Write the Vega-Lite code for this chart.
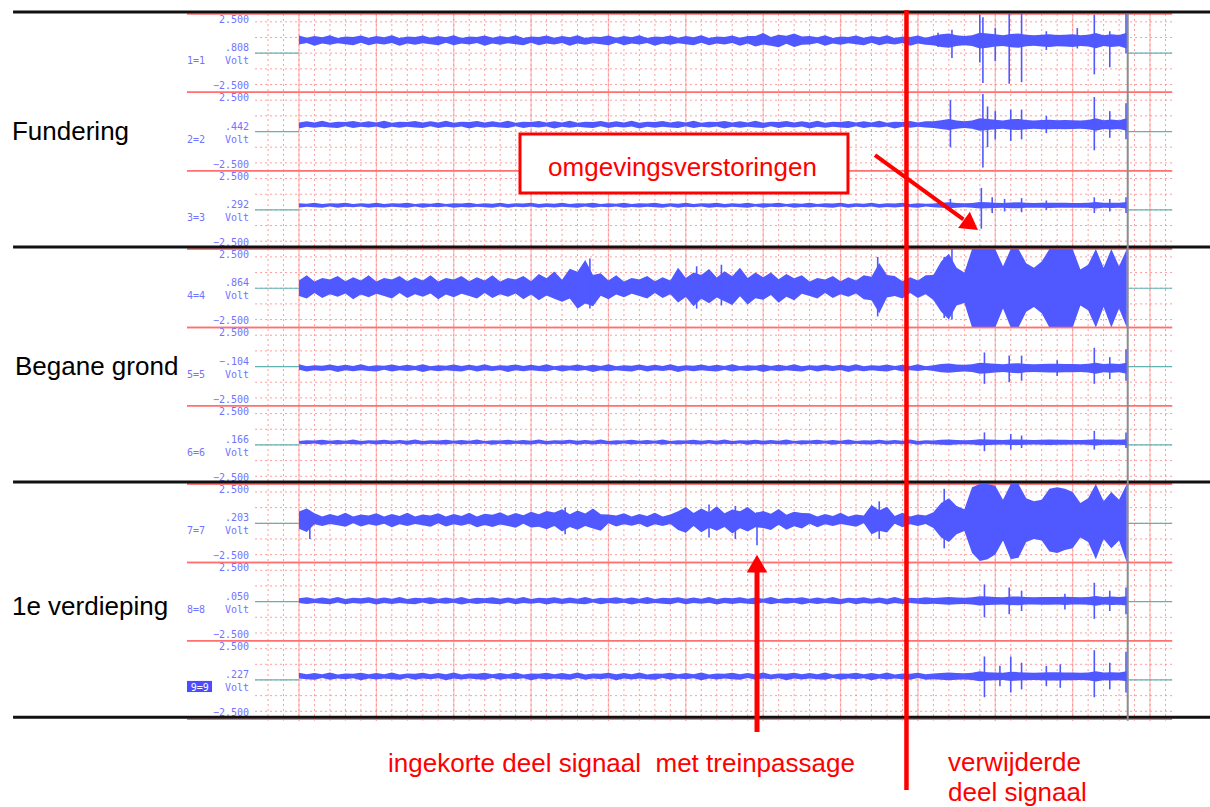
{
"$schema": "https://vega.github.io/schema/vega-lite/v6.json",
"width": 1210, "height": 807, "padding": 0, "autosize": {"type": "none"},
"background": "white",
"config": {"view": {"stroke": null}, "axis": {"disable": true}, "legend": {"disable": true}},
"datasets": {
"s": [
{"t":0,"h1":1.13,"l1":0.55,"h2":0.57,"l2":0.2,"h3":0.43,"l3":0.15,"h4":0.5,"l4":-0.5,"h5":0.15,"l5":-0.21,"h6":0.25,"l6":0.08,"h7":0.75,"l7":-0.35,"h8":0.21,"l8":-0.09,"h9":0.46,"l9":0.1},
{"t":0.5,"h1":0.99,"l1":0.65,"h2":0.65,"l2":0.3,"h3":0.39,"l3":0.2,"h4":0.83,"l4":-0.65,"h5":0.02,"l5":-0.32,"h6":0.3,"l6":0.04,"h7":0.95,"l7":-0.55,"h8":0.28,"l8":-0.15,"h9":0.36,"l9":0.05},
{"t":1,"h1":1.1,"l1":0.48,"h2":0.58,"l2":0.24,"h3":0.46,"l3":0.17,"h4":0.43,"l4":-0.3,"h5":0.09,"l5":-0.24,"h6":0.28,"l6":0.09,"h7":0.64,"l7":-0.07,"h8":0.18,"l8":-0.08,"h9":0.44,"l9":0.01},
{"t":1.5,"h1":1.01,"l1":0.61,"h2":0.69,"l2":0.31,"h3":0.37,"l3":0.14,"h4":0.65,"l4":-0.63,"h5":0.06,"l5":-0.29,"h6":0.33,"l6":0.01,"h7":0.44,"l7":-0.18,"h8":0.26,"l8":-0.13,"h9":0.37,"l9":0.12},
{"t":2,"h1":1.15,"l1":0.53,"h2":0.56,"l2":0.26,"h3":0.42,"l3":0.21,"h4":0.55,"l4":-0.38,"h5":0.13,"l5":-0.22,"h6":0.26,"l6":0.07,"h7":0.59,"l7":-0.04,"h8":0.19,"l8":-0.17,"h9":0.48,"l9":0.01},
{"t":2.5,"h1":0.97,"l1":0.63,"h2":0.63,"l2":0.22,"h3":0.4,"l3":0.14,"h4":0.78,"l4":-0.55,"h5":0.03,"l5":-0.34,"h6":0.31,"l6":0.03,"h7":0.47,"l7":-0.13,"h8":0.3,"l8":-0.06,"h9":0.35,"l9":0.09},
{"t":3,"h1":1.07,"l1":0.57,"h2":0.6,"l2":0.33,"h3":0.45,"l3":0.2,"h4":0.45,"l4":-0.33,"h5":0.11,"l5":-0.24,"h6":0.27,"l6":0.08,"h7":0.67,"l7":-0.22,"h8":0.17,"l8":-0.17,"h9":0.42,"l9":0.04},
{"t":3.5,"h1":1.03,"l1":0.5,"h2":0.67,"l2":0.22,"h3":0.38,"l3":0.16,"h4":0.7,"l4":-0.7,"h5":0.04,"l5":-0.3,"h6":0.34,"l6":0.05,"h7":0.43,"l7":0.0,"h8":0.24,"l8":-0.09,"h9":0.39,"l9":0.11},
{"t":4,"h1":1.13,"l1":0.66,"h2":0.57,"l2":0.3,"h3":0.43,"l3":0.21,"h4":0.5,"l4":-0.4,"h5":0.15,"l5":-0.23,"h6":0.25,"l6":0.02,"h7":0.56,"l7":-0.21,"h8":0.21,"l8":-0.14,"h9":0.46,"l9":-0.01},
{"t":4.5,"h1":0.99,"l1":0.51,"h2":0.65,"l2":0.25,"h3":0.39,"l3":0.13,"h4":0.83,"l4":-0.58,"h5":0.02,"l5":-0.28,"h6":0.3,"l6":0.09,"h7":0.5,"l7":-0.06,"h8":0.28,"l8":-0.07,"h9":0.36,"l9":0.09},
{"t":5,"h1":1.1,"l1":0.62,"h2":0.58,"l2":0.32,"h3":0.46,"l3":0.19,"h4":0.43,"l4":-0.35,"h5":0.09,"l5":-0.32,"h6":0.28,"l6":0.02,"h7":0.64,"l7":-0.16,"h8":0.18,"l8":-0.19,"h9":0.44,"l9":0.03},
{"t":5.5,"h1":1.01,"l1":0.55,"h2":0.69,"l2":0.2,"h3":0.37,"l3":0.15,"h4":0.65,"l4":-0.5,"h5":0.06,"l5":-0.21,"h6":0.33,"l6":0.08,"h7":0.44,"l7":-0.03,"h8":0.26,"l8":-0.09,"h9":0.37,"l9":0.1},
{"t":6,"h1":1.15,"l1":0.65,"h2":0.56,"l2":0.3,"h3":0.42,"l3":0.2,"h4":0.55,"l4":-0.65,"h5":0.13,"l5":-0.32,"h6":0.26,"l6":0.04,"h7":0.59,"l7":-0.25,"h8":0.19,"l8":-0.15,"h9":0.48,"l9":0.05},
{"t":6.5,"h1":0.97,"l1":0.48,"h2":0.63,"l2":0.24,"h3":0.4,"l3":0.17,"h4":0.78,"l4":-0.3,"h5":0.03,"l5":-0.24,"h6":0.31,"l6":0.09,"h7":0.47,"l7":-0.07,"h8":0.3,"l8":-0.08,"h9":0.35,"l9":0.01},
{"t":7,"h1":1.07,"l1":0.61,"h2":0.6,"l2":0.31,"h3":0.45,"l3":0.14,"h4":0.45,"l4":-0.63,"h5":0.11,"l5":-0.29,"h6":0.27,"l6":0.01,"h7":0.67,"l7":-0.18,"h8":0.17,"l8":-0.13,"h9":0.42,"l9":0.12},
{"t":7.5,"h1":1.03,"l1":0.53,"h2":0.67,"l2":0.26,"h3":0.38,"l3":0.21,"h4":0.7,"l4":-0.38,"h5":0.04,"l5":-0.22,"h6":0.34,"l6":0.07,"h7":0.43,"l7":-0.04,"h8":0.24,"l8":-0.17,"h9":0.39,"l9":0.01},
{"t":8,"h1":1.13,"l1":0.63,"h2":0.57,"l2":0.22,"h3":0.43,"l3":0.14,"h4":0.5,"l4":-0.55,"h5":0.15,"l5":-0.34,"h6":0.25,"l6":0.03,"h7":0.56,"l7":-0.13,"h8":0.21,"l8":-0.06,"h9":0.46,"l9":0.09},
{"t":8.5,"h1":0.99,"l1":0.57,"h2":0.65,"l2":0.33,"h3":0.39,"l3":0.2,"h4":0.83,"l4":-0.33,"h5":0.02,"l5":-0.24,"h6":0.3,"l6":0.08,"h7":0.5,"l7":-0.22,"h8":0.28,"l8":-0.17,"h9":0.36,"l9":0.04},
{"t":9,"h1":1.1,"l1":0.5,"h2":0.58,"l2":0.22,"h3":0.46,"l3":0.16,"h4":0.43,"l4":-0.7,"h5":0.09,"l5":-0.3,"h6":0.28,"l6":0.05,"h7":0.64,"l7":0.0,"h8":0.18,"l8":-0.09,"h9":0.44,"l9":0.11},
{"t":9.5,"h1":1.01,"l1":0.66,"h2":0.69,"l2":0.3,"h3":0.37,"l3":0.21,"h4":0.65,"l4":-0.4,"h5":0.06,"l5":-0.23,"h6":0.33,"l6":0.02,"h7":0.44,"l7":-0.21,"h8":0.26,"l8":-0.14,"h9":0.37,"l9":-0.01},
{"t":10,"h1":1.15,"l1":0.51,"h2":0.56,"l2":0.25,"h3":0.42,"l3":0.13,"h4":0.55,"l4":-0.58,"h5":0.13,"l5":-0.28,"h6":0.26,"l6":0.09,"h7":0.59,"l7":-0.06,"h8":0.19,"l8":-0.07,"h9":0.48,"l9":0.09},
{"t":10.5,"h1":0.97,"l1":0.62,"h2":0.63,"l2":0.32,"h3":0.4,"l3":0.19,"h4":0.78,"l4":-0.35,"h5":0.03,"l5":-0.32,"h6":0.31,"l6":0.02,"h7":0.47,"l7":-0.16,"h8":0.3,"l8":-0.19,"h9":0.35,"l9":0.03},
{"t":11,"h1":1.07,"l1":0.55,"h2":0.6,"l2":0.2,"h3":0.45,"l3":0.15,"h4":0.45,"l4":-0.5,"h5":0.11,"l5":-0.21,"h6":0.27,"l6":0.08,"h7":0.67,"l7":-0.03,"h8":0.17,"l8":-0.09,"h9":0.42,"l9":0.1},
{"t":11.5,"h1":1.03,"l1":0.65,"h2":0.67,"l2":0.3,"h3":0.38,"l3":0.2,"h4":0.7,"l4":-0.65,"h5":0.04,"l5":-0.32,"h6":0.34,"l6":0.04,"h7":0.43,"l7":-0.25,"h8":0.24,"l8":-0.15,"h9":0.39,"l9":0.05},
{"t":12,"h1":1.13,"l1":0.48,"h2":0.57,"l2":0.24,"h3":0.43,"l3":0.17,"h4":0.5,"l4":-0.3,"h5":0.15,"l5":-0.24,"h6":0.25,"l6":0.09,"h7":0.61,"l7":-0.11,"h8":0.21,"l8":-0.08,"h9":0.46,"l9":0.01},
{"t":12.5,"h1":0.99,"l1":0.61,"h2":0.65,"l2":0.31,"h3":0.39,"l3":0.14,"h4":0.83,"l4":-0.63,"h5":0.02,"l5":-0.29,"h6":0.3,"l6":0.01,"h7":0.55,"l7":-0.24,"h8":0.28,"l8":-0.13,"h9":0.36,"l9":0.12},
{"t":13,"h1":1.1,"l1":0.53,"h2":0.58,"l2":0.26,"h3":0.46,"l3":0.21,"h4":0.43,"l4":-0.38,"h5":0.09,"l5":-0.22,"h6":0.28,"l6":0.07,"h7":0.71,"l7":-0.08,"h8":0.18,"l8":-0.17,"h9":0.44,"l9":0.01},
{"t":13.5,"h1":1.01,"l1":0.63,"h2":0.69,"l2":0.22,"h3":0.37,"l3":0.14,"h4":0.65,"l4":-0.55,"h5":0.06,"l5":-0.34,"h6":0.33,"l6":0.03,"h7":0.48,"l7":-0.18,"h8":0.26,"l8":-0.06,"h9":0.37,"l9":0.09},
{"t":14,"h1":1.15,"l1":0.57,"h2":0.56,"l2":0.33,"h3":0.42,"l3":0.2,"h4":0.55,"l4":-0.33,"h5":0.13,"l5":-0.24,"h6":0.26,"l6":0.08,"h7":0.65,"l7":-0.28,"h8":0.19,"l8":-0.17,"h9":0.48,"l9":0.04},
{"t":14.5,"h1":0.97,"l1":0.5,"h2":0.63,"l2":0.22,"h3":0.4,"l3":0.16,"h4":0.78,"l4":-0.7,"h5":0.03,"l5":-0.3,"h6":0.31,"l6":0.05,"h7":0.51,"l7":-0.03,"h8":0.3,"l8":-0.09,"h9":0.35,"l9":0.11},
{"t":15,"h1":1.07,"l1":0.66,"h2":0.6,"l2":0.3,"h3":0.45,"l3":0.21,"h4":0.45,"l4":-0.4,"h5":0.11,"l5":-0.23,"h6":0.27,"l6":0.02,"h7":0.74,"l7":-0.27,"h8":0.17,"l8":-0.14,"h9":0.42,"l9":-0.01},
{"t":15.5,"h1":1.03,"l1":0.51,"h2":0.67,"l2":0.25,"h3":0.38,"l3":0.13,"h4":0.9,"l4":-0.77,"h5":0.04,"l5":-0.28,"h6":0.34,"l6":0.09,"h7":0.57,"l7":-0.22,"h8":0.24,"l8":-0.07,"h9":0.39,"l9":0.09},
{"t":16,"h1":1.13,"l1":0.62,"h2":0.57,"l2":0.32,"h3":0.43,"l3":0.19,"h4":0.64,"l4":-0.47,"h5":0.15,"l5":-0.32,"h6":0.25,"l6":0.02,"h7":0.78,"l7":-0.38,"h8":0.21,"l8":-0.19,"h9":0.46,"l9":0.03},
{"t":16.5,"h1":0.99,"l1":0.55,"h2":0.65,"l2":0.2,"h3":0.39,"l3":0.15,"h4":1.06,"l4":-0.67,"h5":0.02,"l5":-0.21,"h6":0.3,"l6":0.08,"h7":0.68,"l7":-0.17,"h8":0.28,"l8":-0.09,"h9":0.36,"l9":0.1},
{"t":17,"h1":1.1,"l1":0.65,"h2":0.58,"l2":0.3,"h3":0.46,"l3":0.2,"h4":0.54,"l4":-0.86,"h5":0.09,"l5":-0.32,"h6":0.28,"l6":0.04,"h7":0.9,"l7":-0.52,"h8":0.18,"l8":-0.15,"h9":0.44,"l9":0.05},
{"t":17.5,"h1":1.01,"l1":0.48,"h2":0.69,"l2":0.24,"h3":0.37,"l3":0.17,"h4":1.25,"l4":-0.65,"h5":0.06,"l5":-0.24,"h6":0.33,"l6":0.09,"h7":0.58,"l7":-0.23,"h8":0.26,"l8":-0.08,"h9":0.37,"l9":0.01},
{"t":18,"h1":1.15,"l1":0.61,"h2":0.56,"l2":0.31,"h3":0.42,"l3":0.14,"h4":1.05,"l4":-1.31,"h5":0.13,"l5":-0.29,"h6":0.26,"l6":0.01,"h7":0.82,"l7":-0.41,"h8":0.19,"l8":-0.13,"h9":0.48,"l9":0.12},
{"t":18.5,"h1":0.97,"l1":0.53,"h2":0.63,"l2":0.26,"h3":0.4,"l3":0.21,"h4":1.8,"l4":-0.98,"h5":0.03,"l5":-0.22,"h6":0.31,"l6":0.07,"h7":0.63,"l7":-0.18,"h8":0.3,"l8":-0.17,"h9":0.35,"l9":0.01},
{"t":19,"h1":1.07,"l1":0.63,"h2":0.6,"l2":0.22,"h3":0.45,"l3":0.14,"h4":0.85,"l4":-1.15,"h5":0.11,"l5":-0.34,"h6":0.27,"l6":0.03,"h7":0.95,"l7":-0.33,"h8":0.17,"l8":-0.06,"h9":0.42,"l9":0.09},
{"t":19.5,"h1":1.03,"l1":0.57,"h2":0.67,"l2":0.33,"h3":0.38,"l3":0.2,"h4":0.96,"l4":-0.48,"h5":0.04,"l5":-0.24,"h6":0.34,"l6":0.08,"h7":0.57,"l7":-0.47,"h8":0.24,"l8":-0.17,"h9":0.39,"l9":0.04},
{"t":20,"h1":1.13,"l1":0.5,"h2":0.57,"l2":0.22,"h3":0.43,"l3":0.16,"h4":0.5,"l4":-0.7,"h5":0.15,"l5":-0.3,"h6":0.25,"l6":0.05,"h7":0.56,"l7":0.0,"h8":0.21,"l8":-0.09,"h9":0.46,"l9":0.11},
{"t":20.5,"h1":0.99,"l1":0.66,"h2":0.65,"l2":0.3,"h3":0.39,"l3":0.21,"h4":0.83,"l4":-0.4,"h5":0.02,"l5":-0.23,"h6":0.3,"l6":0.02,"h7":0.5,"l7":-0.21,"h8":0.28,"l8":-0.14,"h9":0.36,"l9":-0.01},
{"t":21,"h1":1.1,"l1":0.51,"h2":0.58,"l2":0.25,"h3":0.46,"l3":0.13,"h4":0.43,"l4":-0.58,"h5":0.09,"l5":-0.28,"h6":0.28,"l6":0.09,"h7":0.64,"l7":-0.06,"h8":0.18,"l8":-0.07,"h9":0.44,"l9":0.09},
{"t":21.5,"h1":1.01,"l1":0.62,"h2":0.69,"l2":0.32,"h3":0.37,"l3":0.19,"h4":0.65,"l4":-0.35,"h5":0.06,"l5":-0.32,"h6":0.33,"l6":0.02,"h7":0.44,"l7":-0.16,"h8":0.26,"l8":-0.19,"h9":0.37,"l9":0.03},
{"t":22,"h1":1.15,"l1":0.55,"h2":0.56,"l2":0.2,"h3":0.42,"l3":0.15,"h4":0.55,"l4":-0.5,"h5":0.13,"l5":-0.21,"h6":0.26,"l6":0.08,"h7":0.59,"l7":-0.03,"h8":0.19,"l8":-0.09,"h9":0.48,"l9":0.1},
{"t":22.5,"h1":0.97,"l1":0.65,"h2":0.63,"l2":0.3,"h3":0.4,"l3":0.2,"h4":0.78,"l4":-0.65,"h5":0.03,"l5":-0.32,"h6":0.31,"l6":0.04,"h7":0.47,"l7":-0.25,"h8":0.3,"l8":-0.15,"h9":0.35,"l9":0.05},
{"t":23,"h1":1.07,"l1":0.48,"h2":0.6,"l2":0.24,"h3":0.45,"l3":0.17,"h4":0.45,"l4":-0.3,"h5":0.11,"l5":-0.24,"h6":0.27,"l6":0.09,"h7":0.67,"l7":-0.07,"h8":0.17,"l8":-0.08,"h9":0.42,"l9":0.01},
{"t":23.5,"h1":1.03,"l1":0.61,"h2":0.67,"l2":0.31,"h3":0.38,"l3":0.14,"h4":0.7,"l4":-0.63,"h5":0.04,"l5":-0.29,"h6":0.34,"l6":0.01,"h7":0.43,"l7":-0.18,"h8":0.24,"l8":-0.13,"h9":0.39,"l9":0.12},
{"t":24,"h1":1.13,"l1":0.53,"h2":0.57,"l2":0.26,"h3":0.43,"l3":0.21,"h4":0.5,"l4":-0.38,"h5":0.15,"l5":-0.22,"h6":0.25,"l6":0.07,"h7":0.56,"l7":-0.04,"h8":0.21,"l8":-0.17,"h9":0.46,"l9":0.01},
{"t":24.5,"h1":0.99,"l1":0.63,"h2":0.65,"l2":0.22,"h3":0.39,"l3":0.14,"h4":1.3,"l4":-0.91,"h5":0.02,"l5":-0.34,"h6":0.3,"l6":0.03,"h7":0.77,"l7":-0.43,"h8":0.28,"l8":-0.06,"h9":0.36,"l9":0.09},
{"t":25,"h1":1.1,"l1":0.57,"h2":0.58,"l2":0.33,"h3":0.46,"l3":0.2,"h4":0.66,"l4":-0.56,"h5":0.09,"l5":-0.24,"h6":0.28,"l6":0.08,"h7":1.04,"l7":-0.6,"h8":0.18,"l8":-0.17,"h9":0.44,"l9":0.04},
{"t":25.5,"h1":1.01,"l1":0.5,"h2":0.69,"l2":0.22,"h3":0.37,"l3":0.16,"h4":1.01,"l4":-1.15,"h5":0.06,"l5":-0.3,"h6":0.33,"l6":0.05,"h7":0.66,"l7":-0.18,"h8":0.26,"l8":-0.09,"h9":0.37,"l9":0.11},
{"t":26,"h1":1.15,"l1":0.66,"h2":0.56,"l2":0.3,"h3":0.42,"l3":0.21,"h4":0.85,"l4":-0.67,"h5":0.13,"l5":-0.23,"h6":0.26,"l6":0.02,"h7":0.94,"l7":-0.58,"h8":0.19,"l8":-0.14,"h9":0.48,"l9":-0.01},
{"t":26.5,"h1":0.97,"l1":0.51,"h2":0.63,"l2":0.25,"h3":0.4,"l3":0.13,"h4":1.22,"l4":-0.96,"h5":0.03,"l5":-0.28,"h6":0.31,"l6":0.09,"h7":0.71,"l7":-0.29,"h8":0.3,"l8":-0.07,"h9":0.35,"l9":0.09},
{"t":27,"h1":1.07,"l1":0.62,"h2":0.6,"l2":0.32,"h3":0.45,"l3":0.19,"h4":0.69,"l4":-0.59,"h5":0.11,"l5":-0.32,"h6":0.27,"l6":0.02,"h7":1.09,"l7":-0.48,"h8":0.17,"l8":-0.19,"h9":0.42,"l9":0.03},
{"t":27.5,"h1":1.03,"l1":0.55,"h2":0.67,"l2":0.2,"h3":0.38,"l3":0.15,"h4":1.09,"l4":-0.83,"h5":0.04,"l5":-0.21,"h6":0.34,"l6":0.08,"h7":0.64,"l7":-0.24,"h8":0.24,"l8":-0.09,"h9":0.39,"l9":0.1},
{"t":28,"h1":1.13,"l1":0.65,"h2":0.57,"l2":0.3,"h3":0.43,"l3":0.2,"h4":0.77,"l4":-1.07,"h5":0.15,"l5":-0.32,"h6":0.25,"l6":0.04,"h7":0.88,"l7":-0.66,"h8":0.21,"l8":-0.15,"h9":0.46,"l9":0.05},
{"t":28.5,"h1":0.99,"l1":0.48,"h2":0.65,"l2":0.24,"h3":0.39,"l3":0.17,"h4":1.3,"l4":-0.51,"h5":0.02,"l5":-0.24,"h6":0.3,"l6":0.09,"h7":0.77,"l7":-0.31,"h8":0.28,"l8":-0.08,"h9":0.36,"l9":0.01},
{"t":29,"h1":1.1,"l1":0.61,"h2":0.58,"l2":0.31,"h3":0.46,"l3":0.14,"h4":0.66,"l4":-1.04,"h5":0.09,"l5":-0.29,"h6":0.28,"l6":0.01,"h7":1.04,"l7":-0.52,"h8":0.18,"l8":-0.13,"h9":0.44,"l9":0.12},
{"t":29.5,"h1":1.09,"l1":0.42,"h2":0.69,"l2":0.26,"h3":0.37,"l3":0.21,"h4":1.01,"l4":-0.64,"h5":0.06,"l5":-0.22,"h6":0.33,"l6":0.07,"h7":0.66,"l7":-0.26,"h8":0.26,"l8":-0.17,"h9":0.37,"l9":0.01},
{"t":30,"h1":1.29,"l1":0.56,"h2":0.56,"l2":0.22,"h3":0.42,"l3":0.14,"h4":0.7,"l4":-0.73,"h5":0.13,"l5":-0.34,"h6":0.26,"l6":0.03,"h7":0.79,"l7":-0.3,"h8":0.19,"l8":-0.06,"h9":0.48,"l9":0.09},
{"t":30.5,"h1":1.03,"l1":0.47,"h2":0.63,"l2":0.33,"h3":0.4,"l3":0.2,"h4":1.0,"l4":-0.44,"h5":0.03,"l5":-0.24,"h6":0.31,"l6":0.08,"h7":0.61,"l7":-0.43,"h8":0.3,"l8":-0.17,"h9":0.35,"l9":0.04},
{"t":31,"h1":1.17,"l1":0.38,"h2":0.6,"l2":0.22,"h3":0.45,"l3":0.16,"h4":0.57,"l4":-0.93,"h5":0.11,"l5":-0.3,"h6":0.27,"l6":0.05,"h7":0.91,"l7":-0.1,"h8":0.17,"l8":-0.09,"h9":0.42,"l9":0.11},
{"t":31.5,"h1":1.12,"l1":0.6,"h2":0.67,"l2":0.3,"h3":0.38,"l3":0.21,"h4":0.9,"l4":-0.54,"h5":0.04,"l5":-0.23,"h6":0.34,"l6":0.02,"h7":0.55,"l7":-0.42,"h8":0.24,"l8":-0.14,"h9":0.39,"l9":-0.01},
{"t":32,"h1":1.26,"l1":0.39,"h2":0.57,"l2":0.25,"h3":0.43,"l3":0.13,"h4":0.64,"l4":-0.77,"h5":0.15,"l5":-0.28,"h6":0.25,"l6":0.09,"h7":0.74,"l7":-0.19,"h8":0.21,"l8":-0.07,"h9":0.46,"l9":0.09},
{"t":32.5,"h1":1.06,"l1":0.54,"h2":0.65,"l2":0.32,"h3":0.39,"l3":0.19,"h4":0.83,"l4":-0.35,"h5":0.02,"l5":-0.32,"h6":0.3,"l6":0.02,"h7":0.65,"l7":-0.34,"h8":0.28,"l8":-0.19,"h9":0.36,"l9":0.03},
{"t":33,"h1":1.1,"l1":0.55,"h2":0.58,"l2":0.2,"h3":0.46,"l3":0.15,"h4":0.43,"l4":-0.5,"h5":0.09,"l5":-0.21,"h6":0.28,"l6":0.08,"h7":0.64,"l7":-0.03,"h8":0.18,"l8":-0.09,"h9":0.44,"l9":0.1},
{"t":33.5,"h1":1.01,"l1":0.65,"h2":0.69,"l2":0.3,"h3":0.37,"l3":0.2,"h4":0.65,"l4":-0.65,"h5":0.06,"l5":-0.32,"h6":0.33,"l6":0.04,"h7":0.44,"l7":-0.25,"h8":0.26,"l8":-0.15,"h9":0.37,"l9":0.05},
{"t":34,"h1":1.15,"l1":0.48,"h2":0.56,"l2":0.24,"h3":0.42,"l3":0.17,"h4":0.55,"l4":-0.3,"h5":0.13,"l5":-0.24,"h6":0.26,"l6":0.09,"h7":0.59,"l7":-0.07,"h8":0.19,"l8":-0.08,"h9":0.48,"l9":0.01},
{"t":34.5,"h1":0.97,"l1":0.61,"h2":0.63,"l2":0.31,"h3":0.4,"l3":0.14,"h4":0.78,"l4":-0.63,"h5":0.03,"l5":-0.29,"h6":0.31,"l6":0.01,"h7":0.47,"l7":-0.18,"h8":0.3,"l8":-0.13,"h9":0.35,"l9":0.12},
{"t":35,"h1":1.07,"l1":0.53,"h2":0.6,"l2":0.26,"h3":0.45,"l3":0.21,"h4":0.45,"l4":-0.38,"h5":0.11,"l5":-0.22,"h6":0.27,"l6":0.07,"h7":0.67,"l7":-0.04,"h8":0.17,"l8":-0.17,"h9":0.42,"l9":0.01},
{"t":35.5,"h1":1.03,"l1":0.63,"h2":0.67,"l2":0.22,"h3":0.38,"l3":0.14,"h4":0.7,"l4":-0.55,"h5":0.04,"l5":-0.34,"h6":0.34,"l6":0.03,"h7":0.43,"l7":-0.13,"h8":0.24,"l8":-0.06,"h9":0.39,"l9":0.09},
{"t":36,"h1":1.13,"l1":0.57,"h2":0.57,"l2":0.33,"h3":0.43,"l3":0.2,"h4":0.5,"l4":-0.33,"h5":0.15,"l5":-0.24,"h6":0.25,"l6":0.08,"h7":0.56,"l7":-0.22,"h8":0.21,"l8":-0.17,"h9":0.46,"l9":0.04},
{"t":36.5,"h1":0.99,"l1":0.5,"h2":0.65,"l2":0.22,"h3":0.39,"l3":0.16,"h4":0.83,"l4":-0.7,"h5":0.02,"l5":-0.3,"h6":0.3,"l6":0.05,"h7":0.5,"l7":0.0,"h8":0.28,"l8":-0.09,"h9":0.36,"l9":0.11},
{"t":37,"h1":1.1,"l1":0.66,"h2":0.58,"l2":0.3,"h3":0.46,"l3":0.21,"h4":0.73,"l4":-0.76,"h5":0.09,"l5":-0.23,"h6":0.28,"l6":0.02,"h7":1.17,"l7":-0.7,"h8":0.18,"l8":-0.14,"h9":0.44,"l9":-0.01},
{"t":37.5,"h1":1.01,"l1":0.51,"h2":0.69,"l2":0.25,"h3":0.37,"l3":0.13,"h4":1.61,"l4":-1.59,"h5":0.06,"l5":-0.28,"h6":0.33,"l6":0.09,"h7":0.82,"l7":-0.48,"h8":0.26,"l8":-0.07,"h9":0.37,"l9":0.09},
{"t":38,"h1":1.15,"l1":0.62,"h2":0.56,"l2":0.32,"h3":0.42,"l3":0.19,"h4":0.85,"l4":-0.59,"h5":0.13,"l5":-0.32,"h6":0.26,"l6":0.02,"h7":1.06,"l7":-0.59,"h8":0.19,"l8":-0.19,"h9":0.48,"l9":0.03},
{"t":38.5,"h1":0.97,"l1":0.55,"h2":0.63,"l2":0.2,"h3":0.4,"l3":0.15,"h4":0.78,"l4":-0.5,"h5":0.03,"l5":-0.21,"h6":0.31,"l6":0.08,"h7":0.47,"l7":-0.03,"h8":0.3,"l8":-0.09,"h9":0.35,"l9":0.1},
{"t":39,"h1":1.07,"l1":0.65,"h2":0.6,"l2":0.3,"h3":0.45,"l3":0.2,"h4":0.45,"l4":-0.65,"h5":0.11,"l5":-0.32,"h6":0.27,"l6":0.04,"h7":0.67,"l7":-0.25,"h8":0.17,"l8":-0.15,"h9":0.42,"l9":0.05},
{"t":39.5,"h1":1.03,"l1":0.48,"h2":0.67,"l2":0.24,"h3":0.38,"l3":0.17,"h4":0.7,"l4":-0.3,"h5":0.04,"l5":-0.24,"h6":0.34,"l6":0.09,"h7":0.43,"l7":-0.07,"h8":0.24,"l8":-0.08,"h9":0.39,"l9":0.01},
{"t":40,"h1":1.13,"l1":0.61,"h2":0.57,"l2":0.31,"h3":0.43,"l3":0.14,"h4":0.5,"l4":-0.63,"h5":0.15,"l5":-0.29,"h6":0.25,"l6":0.01,"h7":0.56,"l7":-0.18,"h8":0.21,"l8":-0.13,"h9":0.46,"l9":0.12},
{"t":40.5,"h1":0.99,"l1":0.53,"h2":0.65,"l2":0.26,"h3":0.39,"l3":0.21,"h4":0.83,"l4":-0.38,"h5":0.02,"l5":-0.22,"h6":0.3,"l6":0.07,"h7":0.5,"l7":-0.04,"h8":0.28,"l8":-0.17,"h9":0.36,"l9":0.01},
{"t":41,"h1":1.12,"l1":0.5,"h2":0.66,"l2":0.22,"h3":0.41,"l3":0.17,"h4":0.85,"l4":-0.75,"h5":0.08,"l5":-0.28,"h6":0.29,"l6":0.05,"h7":0.7,"l7":-0.3,"h8":0.23,"l8":-0.13,"h9":0.41,"l9":0.05},
{"t":41.5,"h1":1.2,"l1":0.4,"h2":0.72,"l2":0.16,"h3":0.45,"l3":0.13,"h4":1.7,"l4":-1.5,"h5":0.16,"l5":-0.36,"h6":0.33,"l6":0.01,"h7":1.3,"l7":-0.9,"h8":0.27,"l8":-0.17,"h9":0.45,"l9":0.01},
{"t":42,"h1":1.25,"l1":0.35,"h2":0.8,"l2":0.1,"h3":0.48,"l3":0.1,"h4":2.2,"l4":-2.0,"h5":0.2,"l5":-0.4,"h6":0.35,"l6":-0.01,"h7":1.6,"l7":-1.2,"h8":0.3,"l8":-0.2,"h9":0.48,"l9":-0.02},
{"t":42.5,"h1":1.15,"l1":0.45,"h2":0.7,"l2":0.18,"h3":0.44,"l3":0.14,"h4":1.3,"l4":-1.1,"h5":0.14,"l5":-0.34,"h6":0.32,"l6":0.02,"h7":1.1,"l7":-0.7,"h8":0.26,"l8":-0.16,"h9":0.44,"l9":0.02},
{"t":43,"h1":1.1,"l1":0.5,"h2":0.66,"l2":0.22,"h3":0.42,"l3":0.16,"h4":1.0,"l4":-0.95,"h5":0.11,"l5":-0.31,"h6":0.3,"l6":0.04,"h7":0.9,"l7":-0.5,"h8":0.25,"l8":-0.15,"h9":0.43,"l9":0.03},
{"t":43.5,"h1":1.15,"l1":0.45,"h2":0.7,"l2":0.18,"h3":0.44,"l3":0.14,"h4":2.5,"l4":-2.5,"h5":0.15,"l5":-0.35,"h6":0.32,"l6":0.02,"h7":2.3,"l7":-1.9,"h8":0.28,"l8":-0.18,"h9":0.46,"l9":0.0},
{"t":44,"h1":1.3,"l1":0.3,"h2":0.85,"l2":0.05,"h3":0.5,"l3":0.08,"h4":2.5,"l4":-2.5,"h5":0.25,"l5":-0.45,"h6":0.36,"l6":-0.02,"h7":2.5,"l7":-2.4,"h8":0.35,"l8":-0.25,"h9":0.55,"l9":-0.08},
{"t":44.5,"h1":1.25,"l1":0.35,"h2":0.8,"l2":0.1,"h3":0.48,"l3":0.1,"h4":2.5,"l4":-2.5,"h5":0.22,"l5":-0.42,"h6":0.35,"l6":-0.01,"h7":2.5,"l7":-2.3,"h8":0.32,"l8":-0.22,"h9":0.5,"l9":-0.04},
{"t":45,"h1":1.2,"l1":0.42,"h2":0.75,"l2":0.14,"h3":0.46,"l3":0.12,"h4":2.5,"l4":-2.5,"h5":0.18,"l5":-0.38,"h6":0.33,"l6":0.01,"h7":2.4,"l7":-2.0,"h8":0.3,"l8":-0.2,"h9":0.48,"l9":-0.02},
{"t":45.5,"h1":1.15,"l1":0.45,"h2":0.7,"l2":0.18,"h3":0.44,"l3":0.14,"h4":1.4,"l4":-1.3,"h5":0.15,"l5":-0.35,"h6":0.32,"l6":0.02,"h7":1.5,"l7":-1.1,"h8":0.28,"l8":-0.18,"h9":0.46,"l9":0.0},
{"t":46,"h1":1.22,"l1":0.38,"h2":0.78,"l2":0.12,"h3":0.47,"l3":0.11,"h4":2.5,"l4":-2.5,"h5":0.2,"l5":-0.4,"h6":0.34,"l6":0.0,"h7":2.5,"l7":-2.3,"h8":0.32,"l8":-0.22,"h9":0.52,"l9":-0.06},
{"t":46.5,"h1":1.25,"l1":0.35,"h2":0.8,"l2":0.1,"h3":0.48,"l3":0.1,"h4":2.5,"l4":-2.5,"h5":0.22,"l5":-0.42,"h6":0.35,"l6":-0.01,"h7":2.5,"l7":-2.2,"h8":0.33,"l8":-0.23,"h9":0.5,"l9":-0.04},
{"t":47,"h1":1.18,"l1":0.44,"h2":0.74,"l2":0.15,"h3":0.45,"l3":0.13,"h4":1.6,"l4":-1.5,"h5":0.17,"l5":-0.37,"h6":0.33,"l6":0.01,"h7":1.6,"l7":-1.2,"h8":0.29,"l8":-0.19,"h9":0.47,"l9":-0.01},
{"t":47.5,"h1":1.14,"l1":0.47,"h2":0.7,"l2":0.18,"h3":0.44,"l3":0.14,"h4":1.3,"l4":-1.2,"h5":0.15,"l5":-0.35,"h6":0.32,"l6":0.02,"h7":1.4,"l7":-1.0,"h8":0.28,"l8":-0.18,"h9":0.46,"l9":0.0},
{"t":48,"h1":1.18,"l1":0.42,"h2":0.74,"l2":0.15,"h3":0.45,"l3":0.13,"h4":1.7,"l4":-1.6,"h5":0.17,"l5":-0.37,"h6":0.33,"l6":0.01,"h7":1.5,"l7":-1.1,"h8":0.3,"l8":-0.2,"h9":0.48,"l9":-0.02},
{"t":48.5,"h1":1.2,"l1":0.4,"h2":0.75,"l2":0.14,"h3":0.46,"l3":0.12,"h4":2.5,"l4":-2.5,"h5":0.18,"l5":-0.38,"h6":0.34,"l6":0.0,"h7":2.2,"l7":-1.8,"h8":0.3,"l8":-0.2,"h9":0.49,"l9":-0.03},
{"t":49,"h1":1.16,"l1":0.44,"h2":0.72,"l2":0.16,"h3":0.45,"l3":0.13,"h4":2.5,"l4":-2.5,"h5":0.18,"l5":-0.38,"h6":0.33,"l6":0.01,"h7":2.3,"l7":-1.9,"h8":0.29,"l8":-0.19,"h9":0.5,"l9":-0.04},
{"t":49.5,"h1":1.18,"l1":0.42,"h2":0.74,"l2":0.15,"h3":0.45,"l3":0.13,"h4":2.5,"l4":-2.5,"h5":0.17,"l5":-0.37,"h6":0.33,"l6":0.01,"h7":2.2,"l7":-1.7,"h8":0.31,"l8":-0.21,"h9":0.48,"l9":-0.02},
{"t":50,"h1":1.2,"l1":0.4,"h2":0.72,"l2":0.16,"h3":0.44,"l3":0.14,"h4":2.5,"l4":-2.5,"h5":0.16,"l5":-0.36,"h6":0.32,"l6":0.02,"h7":2.0,"l7":-1.6,"h8":0.29,"l8":-0.19,"h9":0.47,"l9":-0.01},
{"t":50.5,"h1":1.15,"l1":0.45,"h2":0.7,"l2":0.18,"h3":0.44,"l3":0.14,"h4":1.2,"l4":-1.1,"h5":0.15,"l5":-0.35,"h6":0.32,"l6":0.02,"h7":1.3,"l7":-0.9,"h8":0.28,"l8":-0.18,"h9":0.46,"l9":0.0},
{"t":51,"h1":1.18,"l1":0.42,"h2":0.74,"l2":0.15,"h3":0.45,"l3":0.13,"h4":1.5,"l4":-1.4,"h5":0.18,"l5":-0.38,"h6":0.33,"l6":0.01,"h7":1.6,"l7":-1.2,"h8":0.3,"l8":-0.2,"h9":0.48,"l9":-0.02},
{"t":51.5,"h1":1.28,"l1":0.32,"h2":0.85,"l2":0.05,"h3":0.5,"l3":0.08,"h4":2.5,"l4":-2.5,"h5":0.25,"l5":-0.45,"h6":0.37,"l6":-0.03,"h7":2.5,"l7":-2.3,"h8":0.36,"l8":-0.26,"h9":0.56,"l9":-0.1},
{"t":52,"h1":1.15,"l1":0.45,"h2":0.72,"l2":0.16,"h3":0.45,"l3":0.13,"h4":1.3,"l4":-1.2,"h5":0.16,"l5":-0.36,"h6":0.33,"l6":0.01,"h7":1.4,"l7":-1.0,"h8":0.29,"l8":-0.19,"h9":0.48,"l9":-0.02},
{"t":52.5,"h1":1.2,"l1":0.4,"h2":0.76,"l2":0.13,"h3":0.46,"l3":0.12,"h4":2.5,"l4":-2.5,"h5":0.2,"l5":-0.4,"h6":0.34,"l6":0.0,"h7":2.0,"l7":-1.6,"h8":0.32,"l8":-0.22,"h9":0.5,"l9":-0.04},
{"t":53,"h1":1.16,"l1":0.44,"h2":0.72,"l2":0.16,"h3":0.45,"l3":0.13,"h4":1.4,"l4":-1.3,"h5":0.17,"l5":-0.37,"h6":0.33,"l6":0.01,"h7":1.5,"l7":-1.1,"h8":0.3,"l8":-0.2,"h9":0.48,"l9":-0.02},
{"t":53.5,"h1":1.3,"l1":0.3,"h2":0.85,"l2":0.05,"h3":0.5,"l3":0.08,"h4":2.5,"l4":-2.5,"h5":0.25,"l5":-0.45,"h6":0.36,"l6":-0.02,"h7":2.5,"l7":-2.5,"h8":0.35,"l8":-0.25,"h9":0.55,"l9":-0.08}
],
"sp": [
{"c":1,"t":41.3,"h":1.3,"l":0.4},{"c":1,"t":42.2,"h":1.5,"l":-0.3},{"c":1,"t":44.0,"h":2.45,"l":-0.6},{"c":1,"t":44.2,"h":2.3,"l":-1.9},{"c":1,"t":45.0,"h":1.6,"l":-0.5},{"c":1,"t":45.9,"h":2.5,"l":-1.95},{"c":1,"t":46.7,"h":2.5,"l":-1.85},{"c":1,"t":48.3,"h":1.4,"l":0.2},{"c":1,"t":50.3,"h":1.6,"l":0.3},{"c":1,"t":51.4,"h":2.45,"l":-1.35},{"c":1,"t":52.4,"h":1.4,"l":-0.9},{"c":1,"t":53.45,"h":2.5,"l":0.0},
{"c":2,"t":42.1,"h":2.0,"l":-1.0},{"c":2,"t":44.2,"h":2.4,"l":-2.3},{"c":2,"t":44.5,"h":1.6,"l":-1.0},{"c":2,"t":45.0,"h":1.3,"l":-0.5},{"c":2,"t":46.0,"h":1.4,"l":-0.6},{"c":2,"t":46.7,"h":1.4,"l":-0.5},{"c":2,"t":48.3,"h":1.0,"l":-0.1},{"c":2,"t":51.4,"h":2.2,"l":-1.2},{"c":2,"t":52.4,"h":1.3,"l":-0.4},{"c":2,"t":53.45,"h":1.8,"l":-0.5},
{"c":3,"t":42.1,"h":0.7,"l":-0.1},{"c":3,"t":44.1,"h":1.4,"l":-1.2},{"c":3,"t":44.8,"h":0.8,"l":-0.2},{"c":3,"t":45.6,"h":0.7,"l":-0.1},{"c":3,"t":46.7,"h":0.75,"l":-0.15},{"c":3,"t":48.3,"h":0.6,"l":0.0},{"c":3,"t":51.4,"h":0.8,"l":-0.2},{"c":3,"t":52.4,"h":0.7,"l":-0.1},{"c":3,"t":53.45,"h":0.8,"l":-0.2},
{"c":4,"t":18.8,"h":1.9,"l":-1.3},{"c":4,"t":25.7,"h":1.4,"l":-1.3},{"c":4,"t":27.3,"h":1.5,"l":-1.1},{"c":4,"t":37.4,"h":2.0,"l":-1.8},{"c":4,"t":41.7,"h":2.0,"l":-1.9},{"c":4,"t":42.2,"h":2.5,"l":-2.0},
{"c":5,"t":44.3,"h":0.9,"l":-1.1},{"c":5,"t":45.9,"h":0.7,"l":-1.0},{"c":5,"t":46.7,"h":0.7,"l":-0.9},{"c":5,"t":49.0,"h":0.4,"l":-0.6},{"c":5,"t":51.4,"h":1.2,"l":-1.1},{"c":5,"t":52.4,"h":0.6,"l":-0.8},{"c":5,"t":53.45,"h":1.1,"l":-0.9},
{"c":6,"t":44.3,"h":0.8,"l":-0.4},{"c":6,"t":46.0,"h":0.7,"l":-0.3},{"c":6,"t":46.7,"h":0.6,"l":-0.2},{"c":6,"t":51.4,"h":0.9,"l":-0.3},{"c":6,"t":53.45,"h":0.8,"l":-0.2},
{"c":7,"t":0.7,"h":0.8,"l":-1.0},{"c":7,"t":17.2,"h":1.0,"l":-0.7},{"c":7,"t":26.5,"h":1.2,"l":-0.9},{"c":7,"t":28.2,"h":1.1,"l":-1.0},{"c":7,"t":29.6,"h":0.7,"l":-1.4},{"c":7,"t":37.5,"h":1.4,"l":-1.0},{"c":7,"t":41.7,"h":2.2,"l":-1.6},
{"c":8,"t":44.3,"h":1.1,"l":-1.0},{"c":8,"t":45.9,"h":0.9,"l":-0.8},{"c":8,"t":46.7,"h":0.7,"l":-0.6},{"c":8,"t":49.5,"h":0.5,"l":-0.5},{"c":8,"t":51.4,"h":1.2,"l":-1.1},{"c":8,"t":52.4,"h":0.7,"l":-0.6},{"c":8,"t":53.45,"h":0.9,"l":-0.8},
{"c":9,"t":44.3,"h":1.5,"l":-1.1},{"c":9,"t":45.3,"h":0.9,"l":-0.4},{"c":9,"t":46.0,"h":1.5,"l":-0.8},{"c":9,"t":46.7,"h":1.1,"l":-0.6},{"c":9,"t":48.3,"h":0.9,"l":-0.4},{"c":9,"t":49.2,"h":1.0,"l":-0.5},{"c":9,"t":51.4,"h":1.9,"l":-1.1},{"c":9,"t":52.4,"h":1.1,"l":-0.6},{"c":9,"t":53.45,"h":1.8,"l":-0.8}
],
"lab": [{"c":1,"n":"1=1","o":".808"},{"c":2,"n":"2=2","o":".442"},{"c":3,"n":"3=3","o":".292"},{"c":4,"n":"4=4","o":".864"},{"c":5,"n":"5=5","o":"−.104"},{"c":6,"n":"6=6","o":".166"},{"c":7,"n":"7=7","o":".203"},{"c":8,"n":"8=8","o":".050"},{"c":9,"n":"9=9","o":".227"}],
"hg": [{"v":-2},{"v":-1},{"v":0},{"v":1},{"v":2}],
"rb": [{"v":-2.5},{"v":2.5}],
"tb": [{"a":-2.84,"b":0},{"a":53.56,"b":56.43}],
"vg": [{"t":-2},{"t":-1},{"t":0},{"t":1},{"t":2},{"t":3},{"t":4},{"t":5},{"t":6},{"t":7},{"t":8},{"t":9},{"t":10},{"t":11},{"t":12},{"t":13},{"t":14},{"t":15},{"t":16},{"t":17},{"t":18},{"t":19},{"t":20},{"t":21},{"t":22},{"t":23},{"t":24},{"t":25},{"t":26},{"t":27},{"t":28},{"t":29},{"t":30},{"t":31},{"t":32},{"t":33},{"t":34},{"t":35},{"t":36},{"t":37},{"t":38},{"t":39},{"t":40},{"t":41},{"t":42},{"t":43},{"t":44},{"t":45},{"t":46},{"t":47},{"t":48},{"t":49},{"t":50},{"t":51},{"t":52},{"t":53},{"t":54},{"t":55},{"t":56}],
"grp": [{"g":0},{"g":3},{"g":6},{"g":9}]
},
"resolve": {"scale": {"y": "independent"}},
"layer": [
{"data": {"name": "vg"}, "layer": [
 {"transform": [{"filter": "datum.t % 5 == 0"}], "mark": {"type": "rule", "color": "#ffbcbc", "strokeWidth": 1.3},
  "encoding": {"x": {"field": "t", "type": "quantitative", "scale": {"domain": [-19.324, 58.877], "nice": false, "zero": false}},
   "y": {"datum": 0, "type": "quantitative", "scale": {"domain": [-0.1787, 10.1213], "range": [0, 807], "nice": false, "zero": false}}, "y2": {"datum": 9.02}}},
 {"mark": {"type": "rule", "color": "#ff8c8c", "strokeDash": [2, 3], "strokeWidth": 1, "opacity": 0.85},
  "encoding": {"x": {"field": "t", "type": "quantitative"}, "y": {"datum": 0, "type": "quantitative"}, "y2": {"datum": 9.02}}}
]},
{"data": {"name": "lab"}, "transform": [{"filter": "datum.c == 1"}], "layer": [
 {"data": {"name": "hg"}, "mark": {"type": "rule", "color": "#ff8c8c", "strokeDash": [2, 3], "opacity": 0.85}, "encoding": {"x": {"datum": -2.84, "type": "quantitative"}, "x2": {"datum": 56.43}, "y": {"field": "v", "type": "quantitative", "scale": {"domain": [-2.5, 2.5], "range": [92.35, 14], "nice": false, "zero": false}}}},
 {"data": {"name": "rb"}, "mark": {"type": "rule", "color": "#ff7070", "strokeWidth": 1.5}, "encoding": {"x": {"datum": -7.24, "type": "quantitative"}, "x2": {"datum": 56.43}, "y": {"field": "v", "type": "quantitative"}}},
 {"data": {"name": "tb"}, "mark": {"type": "rule", "color": "#5fb3b3", "strokeWidth": 1.2}, "encoding": {"x": {"field": "a", "type": "quantitative"}, "x2": {"field": "b"}, "y": {"datum": 0, "type": "quantitative"}}},
 {"data": {"name": "s"}, "mark": {"type": "area", "color": "#5058ff"}, "encoding": {"x": {"field": "t", "type": "quantitative"}, "y": {"field": "h1", "type": "quantitative"}, "y2": {"field": "l1"}}},
 {"data": {"name": "sp"}, "transform": [{"filter": "datum.c == 1"}], "mark": {"type": "rule", "color": "#5058ff", "strokeWidth": 1.6}, "encoding": {"x": {"field": "t", "type": "quantitative"}, "y": {"field": "h", "type": "quantitative"}, "y2": {"field": "l"}}},
 {"mark": {"type": "text", "font": "DejaVu Sans Mono", "fontSize": 10, "color": "#7373ff", "align": "right", "baseline": "top", "dy": 1}, "encoding": {"text": {"value": "2.500"}, "x": {"datum": -3.23, "type": "quantitative"}, "y": {"datum": 2.5, "type": "quantitative"}}},
 {"mark": {"type": "text", "font": "DejaVu Sans Mono", "fontSize": 10, "color": "#7373ff", "align": "right", "baseline": "bottom", "dy": -1}, "encoding": {"text": {"value": "−2.500"}, "x": {"datum": -3.23, "type": "quantitative"}, "y": {"datum": -2.5, "type": "quantitative"}}},
 {"mark": {"type": "text", "font": "DejaVu Sans Mono", "fontSize": 10, "color": "#7373ff", "align": "right", "baseline": "alphabetic", "dy": -2}, "encoding": {"text": {"field": "o", "type": "nominal"}, "x": {"datum": -3.23, "type": "quantitative"}, "y": {"datum": 0, "type": "quantitative"}}},
 {"mark": {"type": "text", "font": "DejaVu Sans Mono", "fontSize": 10, "color": "#7373ff", "align": "right", "baseline": "alphabetic", "dy": 11}, "encoding": {"text": {"value": "Volt"}, "x": {"datum": -3.23, "type": "quantitative"}, "y": {"datum": 0, "type": "quantitative"}}},
 {"mark": {"type": "text", "font": "DejaVu Sans Mono", "fontSize": 10, "color": "#7373ff", "align": "left", "baseline": "alphabetic", "dy": 11}, "encoding": {"text": {"field": "n", "type": "nominal"}, "x": {"datum": -7.24, "type": "quantitative"}, "y": {"datum": 0, "type": "quantitative"}}}
]},
{"data": {"name": "lab"}, "transform": [{"filter": "datum.c == 2"}], "layer": [
 {"data": {"name": "hg"}, "mark": {"type": "rule", "color": "#ff8c8c", "strokeDash": [2, 3], "opacity": 0.85}, "encoding": {"x": {"datum": -2.84, "type": "quantitative"}, "x2": {"datum": 56.43}, "y": {"field": "v", "type": "quantitative", "scale": {"domain": [-2.5, 2.5], "range": [170.7, 92.35], "nice": false, "zero": false}}}},
 {"data": {"name": "rb"}, "mark": {"type": "rule", "color": "#ff7070", "strokeWidth": 1.5}, "encoding": {"x": {"datum": -7.24, "type": "quantitative"}, "x2": {"datum": 56.43}, "y": {"field": "v", "type": "quantitative"}}},
 {"data": {"name": "tb"}, "mark": {"type": "rule", "color": "#5fb3b3", "strokeWidth": 1.2}, "encoding": {"x": {"field": "a", "type": "quantitative"}, "x2": {"field": "b"}, "y": {"datum": 0, "type": "quantitative"}}},
 {"data": {"name": "s"}, "mark": {"type": "area", "color": "#5058ff"}, "encoding": {"x": {"field": "t", "type": "quantitative"}, "y": {"field": "h2", "type": "quantitative"}, "y2": {"field": "l2"}}},
 {"data": {"name": "sp"}, "transform": [{"filter": "datum.c == 2"}], "mark": {"type": "rule", "color": "#5058ff", "strokeWidth": 1.6}, "encoding": {"x": {"field": "t", "type": "quantitative"}, "y": {"field": "h", "type": "quantitative"}, "y2": {"field": "l"}}},
 {"mark": {"type": "text", "font": "DejaVu Sans Mono", "fontSize": 10, "color": "#7373ff", "align": "right", "baseline": "top", "dy": 1}, "encoding": {"text": {"value": "2.500"}, "x": {"datum": -3.23, "type": "quantitative"}, "y": {"datum": 2.5, "type": "quantitative"}}},
 {"mark": {"type": "text", "font": "DejaVu Sans Mono", "fontSize": 10, "color": "#7373ff", "align": "right", "baseline": "bottom", "dy": -1}, "encoding": {"text": {"value": "−2.500"}, "x": {"datum": -3.23, "type": "quantitative"}, "y": {"datum": -2.5, "type": "quantitative"}}},
 {"mark": {"type": "text", "font": "DejaVu Sans Mono", "fontSize": 10, "color": "#7373ff", "align": "right", "baseline": "alphabetic", "dy": -2}, "encoding": {"text": {"field": "o", "type": "nominal"}, "x": {"datum": -3.23, "type": "quantitative"}, "y": {"datum": 0, "type": "quantitative"}}},
 {"mark": {"type": "text", "font": "DejaVu Sans Mono", "fontSize": 10, "color": "#7373ff", "align": "right", "baseline": "alphabetic", "dy": 11}, "encoding": {"text": {"value": "Volt"}, "x": {"datum": -3.23, "type": "quantitative"}, "y": {"datum": 0, "type": "quantitative"}}},
 {"mark": {"type": "text", "font": "DejaVu Sans Mono", "fontSize": 10, "color": "#7373ff", "align": "left", "baseline": "alphabetic", "dy": 11}, "encoding": {"text": {"field": "n", "type": "nominal"}, "x": {"datum": -7.24, "type": "quantitative"}, "y": {"datum": 0, "type": "quantitative"}}}
]},
{"data": {"name": "lab"}, "transform": [{"filter": "datum.c == 3"}], "layer": [
 {"data": {"name": "hg"}, "mark": {"type": "rule", "color": "#ff8c8c", "strokeDash": [2, 3], "opacity": 0.85}, "encoding": {"x": {"datum": -2.84, "type": "quantitative"}, "x2": {"datum": 56.43}, "y": {"field": "v", "type": "quantitative", "scale": {"domain": [-2.5, 2.5], "range": [249.05, 170.7], "nice": false, "zero": false}}}},
 {"data": {"name": "rb"}, "mark": {"type": "rule", "color": "#ff7070", "strokeWidth": 1.5}, "encoding": {"x": {"datum": -7.24, "type": "quantitative"}, "x2": {"datum": 56.43}, "y": {"field": "v", "type": "quantitative"}}},
 {"data": {"name": "tb"}, "mark": {"type": "rule", "color": "#5fb3b3", "strokeWidth": 1.2}, "encoding": {"x": {"field": "a", "type": "quantitative"}, "x2": {"field": "b"}, "y": {"datum": 0, "type": "quantitative"}}},
 {"data": {"name": "s"}, "mark": {"type": "area", "color": "#5058ff"}, "encoding": {"x": {"field": "t", "type": "quantitative"}, "y": {"field": "h3", "type": "quantitative"}, "y2": {"field": "l3"}}},
 {"data": {"name": "sp"}, "transform": [{"filter": "datum.c == 3"}], "mark": {"type": "rule", "color": "#5058ff", "strokeWidth": 1.6}, "encoding": {"x": {"field": "t", "type": "quantitative"}, "y": {"field": "h", "type": "quantitative"}, "y2": {"field": "l"}}},
 {"mark": {"type": "text", "font": "DejaVu Sans Mono", "fontSize": 10, "color": "#7373ff", "align": "right", "baseline": "top", "dy": 1}, "encoding": {"text": {"value": "2.500"}, "x": {"datum": -3.23, "type": "quantitative"}, "y": {"datum": 2.5, "type": "quantitative"}}},
 {"mark": {"type": "text", "font": "DejaVu Sans Mono", "fontSize": 10, "color": "#7373ff", "align": "right", "baseline": "bottom", "dy": -1}, "encoding": {"text": {"value": "−2.500"}, "x": {"datum": -3.23, "type": "quantitative"}, "y": {"datum": -2.5, "type": "quantitative"}}},
 {"mark": {"type": "text", "font": "DejaVu Sans Mono", "fontSize": 10, "color": "#7373ff", "align": "right", "baseline": "alphabetic", "dy": -2}, "encoding": {"text": {"field": "o", "type": "nominal"}, "x": {"datum": -3.23, "type": "quantitative"}, "y": {"datum": 0, "type": "quantitative"}}},
 {"mark": {"type": "text", "font": "DejaVu Sans Mono", "fontSize": 10, "color": "#7373ff", "align": "right", "baseline": "alphabetic", "dy": 11}, "encoding": {"text": {"value": "Volt"}, "x": {"datum": -3.23, "type": "quantitative"}, "y": {"datum": 0, "type": "quantitative"}}},
 {"mark": {"type": "text", "font": "DejaVu Sans Mono", "fontSize": 10, "color": "#7373ff", "align": "left", "baseline": "alphabetic", "dy": 11}, "encoding": {"text": {"field": "n", "type": "nominal"}, "x": {"datum": -7.24, "type": "quantitative"}, "y": {"datum": 0, "type": "quantitative"}}}
]},
{"data": {"name": "lab"}, "transform": [{"filter": "datum.c == 4"}], "layer": [
 {"data": {"name": "hg"}, "mark": {"type": "rule", "color": "#ff8c8c", "strokeDash": [2, 3], "opacity": 0.85}, "encoding": {"x": {"datum": -2.84, "type": "quantitative"}, "x2": {"datum": 56.43}, "y": {"field": "v", "type": "quantitative", "scale": {"domain": [-2.5, 2.5], "range": [327.4, 249.05], "nice": false, "zero": false}}}},
 {"data": {"name": "rb"}, "mark": {"type": "rule", "color": "#ff7070", "strokeWidth": 1.5}, "encoding": {"x": {"datum": -7.24, "type": "quantitative"}, "x2": {"datum": 56.43}, "y": {"field": "v", "type": "quantitative"}}},
 {"data": {"name": "tb"}, "mark": {"type": "rule", "color": "#5fb3b3", "strokeWidth": 1.2}, "encoding": {"x": {"field": "a", "type": "quantitative"}, "x2": {"field": "b"}, "y": {"datum": 0, "type": "quantitative"}}},
 {"data": {"name": "s"}, "mark": {"type": "area", "color": "#5058ff"}, "encoding": {"x": {"field": "t", "type": "quantitative"}, "y": {"field": "h4", "type": "quantitative"}, "y2": {"field": "l4"}}},
 {"data": {"name": "sp"}, "transform": [{"filter": "datum.c == 4"}], "mark": {"type": "rule", "color": "#5058ff", "strokeWidth": 1.6}, "encoding": {"x": {"field": "t", "type": "quantitative"}, "y": {"field": "h", "type": "quantitative"}, "y2": {"field": "l"}}},
 {"mark": {"type": "text", "font": "DejaVu Sans Mono", "fontSize": 10, "color": "#7373ff", "align": "right", "baseline": "top", "dy": 1}, "encoding": {"text": {"value": "2.500"}, "x": {"datum": -3.23, "type": "quantitative"}, "y": {"datum": 2.5, "type": "quantitative"}}},
 {"mark": {"type": "text", "font": "DejaVu Sans Mono", "fontSize": 10, "color": "#7373ff", "align": "right", "baseline": "bottom", "dy": -1}, "encoding": {"text": {"value": "−2.500"}, "x": {"datum": -3.23, "type": "quantitative"}, "y": {"datum": -2.5, "type": "quantitative"}}},
 {"mark": {"type": "text", "font": "DejaVu Sans Mono", "fontSize": 10, "color": "#7373ff", "align": "right", "baseline": "alphabetic", "dy": -2}, "encoding": {"text": {"field": "o", "type": "nominal"}, "x": {"datum": -3.23, "type": "quantitative"}, "y": {"datum": 0, "type": "quantitative"}}},
 {"mark": {"type": "text", "font": "DejaVu Sans Mono", "fontSize": 10, "color": "#7373ff", "align": "right", "baseline": "alphabetic", "dy": 11}, "encoding": {"text": {"value": "Volt"}, "x": {"datum": -3.23, "type": "quantitative"}, "y": {"datum": 0, "type": "quantitative"}}},
 {"mark": {"type": "text", "font": "DejaVu Sans Mono", "fontSize": 10, "color": "#7373ff", "align": "left", "baseline": "alphabetic", "dy": 11}, "encoding": {"text": {"field": "n", "type": "nominal"}, "x": {"datum": -7.24, "type": "quantitative"}, "y": {"datum": 0, "type": "quantitative"}}}
]},
{"data": {"name": "lab"}, "transform": [{"filter": "datum.c == 5"}], "layer": [
 {"data": {"name": "hg"}, "mark": {"type": "rule", "color": "#ff8c8c", "strokeDash": [2, 3], "opacity": 0.85}, "encoding": {"x": {"datum": -2.84, "type": "quantitative"}, "x2": {"datum": 56.43}, "y": {"field": "v", "type": "quantitative", "scale": {"domain": [-2.5, 2.5], "range": [405.75, 327.4], "nice": false, "zero": false}}}},
 {"data": {"name": "rb"}, "mark": {"type": "rule", "color": "#ff7070", "strokeWidth": 1.5}, "encoding": {"x": {"datum": -7.24, "type": "quantitative"}, "x2": {"datum": 56.43}, "y": {"field": "v", "type": "quantitative"}}},
 {"data": {"name": "tb"}, "mark": {"type": "rule", "color": "#5fb3b3", "strokeWidth": 1.2}, "encoding": {"x": {"field": "a", "type": "quantitative"}, "x2": {"field": "b"}, "y": {"datum": 0, "type": "quantitative"}}},
 {"data": {"name": "s"}, "mark": {"type": "area", "color": "#5058ff"}, "encoding": {"x": {"field": "t", "type": "quantitative"}, "y": {"field": "h5", "type": "quantitative"}, "y2": {"field": "l5"}}},
 {"data": {"name": "sp"}, "transform": [{"filter": "datum.c == 5"}], "mark": {"type": "rule", "color": "#5058ff", "strokeWidth": 1.6}, "encoding": {"x": {"field": "t", "type": "quantitative"}, "y": {"field": "h", "type": "quantitative"}, "y2": {"field": "l"}}},
 {"mark": {"type": "text", "font": "DejaVu Sans Mono", "fontSize": 10, "color": "#7373ff", "align": "right", "baseline": "top", "dy": 1}, "encoding": {"text": {"value": "2.500"}, "x": {"datum": -3.23, "type": "quantitative"}, "y": {"datum": 2.5, "type": "quantitative"}}},
 {"mark": {"type": "text", "font": "DejaVu Sans Mono", "fontSize": 10, "color": "#7373ff", "align": "right", "baseline": "bottom", "dy": -1}, "encoding": {"text": {"value": "−2.500"}, "x": {"datum": -3.23, "type": "quantitative"}, "y": {"datum": -2.5, "type": "quantitative"}}},
 {"mark": {"type": "text", "font": "DejaVu Sans Mono", "fontSize": 10, "color": "#7373ff", "align": "right", "baseline": "alphabetic", "dy": -2}, "encoding": {"text": {"field": "o", "type": "nominal"}, "x": {"datum": -3.23, "type": "quantitative"}, "y": {"datum": 0, "type": "quantitative"}}},
 {"mark": {"type": "text", "font": "DejaVu Sans Mono", "fontSize": 10, "color": "#7373ff", "align": "right", "baseline": "alphabetic", "dy": 11}, "encoding": {"text": {"value": "Volt"}, "x": {"datum": -3.23, "type": "quantitative"}, "y": {"datum": 0, "type": "quantitative"}}},
 {"mark": {"type": "text", "font": "DejaVu Sans Mono", "fontSize": 10, "color": "#7373ff", "align": "left", "baseline": "alphabetic", "dy": 11}, "encoding": {"text": {"field": "n", "type": "nominal"}, "x": {"datum": -7.24, "type": "quantitative"}, "y": {"datum": 0, "type": "quantitative"}}}
]},
{"data": {"name": "lab"}, "transform": [{"filter": "datum.c == 6"}], "layer": [
 {"data": {"name": "hg"}, "mark": {"type": "rule", "color": "#ff8c8c", "strokeDash": [2, 3], "opacity": 0.85}, "encoding": {"x": {"datum": -2.84, "type": "quantitative"}, "x2": {"datum": 56.43}, "y": {"field": "v", "type": "quantitative", "scale": {"domain": [-2.5, 2.5], "range": [484.1, 405.75], "nice": false, "zero": false}}}},
 {"data": {"name": "rb"}, "mark": {"type": "rule", "color": "#ff7070", "strokeWidth": 1.5}, "encoding": {"x": {"datum": -7.24, "type": "quantitative"}, "x2": {"datum": 56.43}, "y": {"field": "v", "type": "quantitative"}}},
 {"data": {"name": "tb"}, "mark": {"type": "rule", "color": "#5fb3b3", "strokeWidth": 1.2}, "encoding": {"x": {"field": "a", "type": "quantitative"}, "x2": {"field": "b"}, "y": {"datum": 0, "type": "quantitative"}}},
 {"data": {"name": "s"}, "mark": {"type": "area", "color": "#5058ff"}, "encoding": {"x": {"field": "t", "type": "quantitative"}, "y": {"field": "h6", "type": "quantitative"}, "y2": {"field": "l6"}}},
 {"data": {"name": "sp"}, "transform": [{"filter": "datum.c == 6"}], "mark": {"type": "rule", "color": "#5058ff", "strokeWidth": 1.6}, "encoding": {"x": {"field": "t", "type": "quantitative"}, "y": {"field": "h", "type": "quantitative"}, "y2": {"field": "l"}}},
 {"mark": {"type": "text", "font": "DejaVu Sans Mono", "fontSize": 10, "color": "#7373ff", "align": "right", "baseline": "top", "dy": 1}, "encoding": {"text": {"value": "2.500"}, "x": {"datum": -3.23, "type": "quantitative"}, "y": {"datum": 2.5, "type": "quantitative"}}},
 {"mark": {"type": "text", "font": "DejaVu Sans Mono", "fontSize": 10, "color": "#7373ff", "align": "right", "baseline": "bottom", "dy": -1}, "encoding": {"text": {"value": "−2.500"}, "x": {"datum": -3.23, "type": "quantitative"}, "y": {"datum": -2.5, "type": "quantitative"}}},
 {"mark": {"type": "text", "font": "DejaVu Sans Mono", "fontSize": 10, "color": "#7373ff", "align": "right", "baseline": "alphabetic", "dy": -2}, "encoding": {"text": {"field": "o", "type": "nominal"}, "x": {"datum": -3.23, "type": "quantitative"}, "y": {"datum": 0, "type": "quantitative"}}},
 {"mark": {"type": "text", "font": "DejaVu Sans Mono", "fontSize": 10, "color": "#7373ff", "align": "right", "baseline": "alphabetic", "dy": 11}, "encoding": {"text": {"value": "Volt"}, "x": {"datum": -3.23, "type": "quantitative"}, "y": {"datum": 0, "type": "quantitative"}}},
 {"mark": {"type": "text", "font": "DejaVu Sans Mono", "fontSize": 10, "color": "#7373ff", "align": "left", "baseline": "alphabetic", "dy": 11}, "encoding": {"text": {"field": "n", "type": "nominal"}, "x": {"datum": -7.24, "type": "quantitative"}, "y": {"datum": 0, "type": "quantitative"}}}
]},
{"data": {"name": "lab"}, "transform": [{"filter": "datum.c == 7"}], "layer": [
 {"data": {"name": "hg"}, "mark": {"type": "rule", "color": "#ff8c8c", "strokeDash": [2, 3], "opacity": 0.85}, "encoding": {"x": {"datum": -2.84, "type": "quantitative"}, "x2": {"datum": 56.43}, "y": {"field": "v", "type": "quantitative", "scale": {"domain": [-2.5, 2.5], "range": [562.45, 484.1], "nice": false, "zero": false}}}},
 {"data": {"name": "rb"}, "mark": {"type": "rule", "color": "#ff7070", "strokeWidth": 1.5}, "encoding": {"x": {"datum": -7.24, "type": "quantitative"}, "x2": {"datum": 56.43}, "y": {"field": "v", "type": "quantitative"}}},
 {"data": {"name": "tb"}, "mark": {"type": "rule", "color": "#5fb3b3", "strokeWidth": 1.2}, "encoding": {"x": {"field": "a", "type": "quantitative"}, "x2": {"field": "b"}, "y": {"datum": 0, "type": "quantitative"}}},
 {"data": {"name": "s"}, "mark": {"type": "area", "color": "#5058ff"}, "encoding": {"x": {"field": "t", "type": "quantitative"}, "y": {"field": "h7", "type": "quantitative"}, "y2": {"field": "l7"}}},
 {"data": {"name": "sp"}, "transform": [{"filter": "datum.c == 7"}], "mark": {"type": "rule", "color": "#5058ff", "strokeWidth": 1.6}, "encoding": {"x": {"field": "t", "type": "quantitative"}, "y": {"field": "h", "type": "quantitative"}, "y2": {"field": "l"}}},
 {"mark": {"type": "text", "font": "DejaVu Sans Mono", "fontSize": 10, "color": "#7373ff", "align": "right", "baseline": "top", "dy": 1}, "encoding": {"text": {"value": "2.500"}, "x": {"datum": -3.23, "type": "quantitative"}, "y": {"datum": 2.5, "type": "quantitative"}}},
 {"mark": {"type": "text", "font": "DejaVu Sans Mono", "fontSize": 10, "color": "#7373ff", "align": "right", "baseline": "bottom", "dy": -1}, "encoding": {"text": {"value": "−2.500"}, "x": {"datum": -3.23, "type": "quantitative"}, "y": {"datum": -2.5, "type": "quantitative"}}},
 {"mark": {"type": "text", "font": "DejaVu Sans Mono", "fontSize": 10, "color": "#7373ff", "align": "right", "baseline": "alphabetic", "dy": -2}, "encoding": {"text": {"field": "o", "type": "nominal"}, "x": {"datum": -3.23, "type": "quantitative"}, "y": {"datum": 0, "type": "quantitative"}}},
 {"mark": {"type": "text", "font": "DejaVu Sans Mono", "fontSize": 10, "color": "#7373ff", "align": "right", "baseline": "alphabetic", "dy": 11}, "encoding": {"text": {"value": "Volt"}, "x": {"datum": -3.23, "type": "quantitative"}, "y": {"datum": 0, "type": "quantitative"}}},
 {"mark": {"type": "text", "font": "DejaVu Sans Mono", "fontSize": 10, "color": "#7373ff", "align": "left", "baseline": "alphabetic", "dy": 11}, "encoding": {"text": {"field": "n", "type": "nominal"}, "x": {"datum": -7.24, "type": "quantitative"}, "y": {"datum": 0, "type": "quantitative"}}}
]},
{"data": {"name": "lab"}, "transform": [{"filter": "datum.c == 8"}], "layer": [
 {"data": {"name": "hg"}, "mark": {"type": "rule", "color": "#ff8c8c", "strokeDash": [2, 3], "opacity": 0.85}, "encoding": {"x": {"datum": -2.84, "type": "quantitative"}, "x2": {"datum": 56.43}, "y": {"field": "v", "type": "quantitative", "scale": {"domain": [-2.5, 2.5], "range": [640.8, 562.45], "nice": false, "zero": false}}}},
 {"data": {"name": "rb"}, "mark": {"type": "rule", "color": "#ff7070", "strokeWidth": 1.5}, "encoding": {"x": {"datum": -7.24, "type": "quantitative"}, "x2": {"datum": 56.43}, "y": {"field": "v", "type": "quantitative"}}},
 {"data": {"name": "tb"}, "mark": {"type": "rule", "color": "#5fb3b3", "strokeWidth": 1.2}, "encoding": {"x": {"field": "a", "type": "quantitative"}, "x2": {"field": "b"}, "y": {"datum": 0, "type": "quantitative"}}},
 {"data": {"name": "s"}, "mark": {"type": "area", "color": "#5058ff"}, "encoding": {"x": {"field": "t", "type": "quantitative"}, "y": {"field": "h8", "type": "quantitative"}, "y2": {"field": "l8"}}},
 {"data": {"name": "sp"}, "transform": [{"filter": "datum.c == 8"}], "mark": {"type": "rule", "color": "#5058ff", "strokeWidth": 1.6}, "encoding": {"x": {"field": "t", "type": "quantitative"}, "y": {"field": "h", "type": "quantitative"}, "y2": {"field": "l"}}},
 {"mark": {"type": "text", "font": "DejaVu Sans Mono", "fontSize": 10, "color": "#7373ff", "align": "right", "baseline": "top", "dy": 1}, "encoding": {"text": {"value": "2.500"}, "x": {"datum": -3.23, "type": "quantitative"}, "y": {"datum": 2.5, "type": "quantitative"}}},
 {"mark": {"type": "text", "font": "DejaVu Sans Mono", "fontSize": 10, "color": "#7373ff", "align": "right", "baseline": "bottom", "dy": -1}, "encoding": {"text": {"value": "−2.500"}, "x": {"datum": -3.23, "type": "quantitative"}, "y": {"datum": -2.5, "type": "quantitative"}}},
 {"mark": {"type": "text", "font": "DejaVu Sans Mono", "fontSize": 10, "color": "#7373ff", "align": "right", "baseline": "alphabetic", "dy": -2}, "encoding": {"text": {"field": "o", "type": "nominal"}, "x": {"datum": -3.23, "type": "quantitative"}, "y": {"datum": 0, "type": "quantitative"}}},
 {"mark": {"type": "text", "font": "DejaVu Sans Mono", "fontSize": 10, "color": "#7373ff", "align": "right", "baseline": "alphabetic", "dy": 11}, "encoding": {"text": {"value": "Volt"}, "x": {"datum": -3.23, "type": "quantitative"}, "y": {"datum": 0, "type": "quantitative"}}},
 {"mark": {"type": "text", "font": "DejaVu Sans Mono", "fontSize": 10, "color": "#7373ff", "align": "left", "baseline": "alphabetic", "dy": 11}, "encoding": {"text": {"field": "n", "type": "nominal"}, "x": {"datum": -7.24, "type": "quantitative"}, "y": {"datum": 0, "type": "quantitative"}}}
]},
{"data": {"name": "lab"}, "transform": [{"filter": "datum.c == 9"}], "layer": [
 {"data": {"name": "hg"}, "mark": {"type": "rule", "color": "#ff8c8c", "strokeDash": [2, 3], "opacity": 0.85}, "encoding": {"x": {"datum": -2.84, "type": "quantitative"}, "x2": {"datum": 56.43}, "y": {"field": "v", "type": "quantitative", "scale": {"domain": [-2.5, 2.5], "range": [719.15, 640.8], "nice": false, "zero": false}}}},
 {"data": {"name": "rb"}, "mark": {"type": "rule", "color": "#ff7070", "strokeWidth": 1.5}, "encoding": {"x": {"datum": -7.24, "type": "quantitative"}, "x2": {"datum": 56.43}, "y": {"field": "v", "type": "quantitative"}}},
 {"data": {"name": "tb"}, "mark": {"type": "rule", "color": "#5fb3b3", "strokeWidth": 1.2}, "encoding": {"x": {"field": "a", "type": "quantitative"}, "x2": {"field": "b"}, "y": {"datum": 0, "type": "quantitative"}}},
 {"data": {"name": "s"}, "mark": {"type": "area", "color": "#5058ff"}, "encoding": {"x": {"field": "t", "type": "quantitative"}, "y": {"field": "h9", "type": "quantitative"}, "y2": {"field": "l9"}}},
 {"data": {"name": "sp"}, "transform": [{"filter": "datum.c == 9"}], "mark": {"type": "rule", "color": "#5058ff", "strokeWidth": 1.6}, "encoding": {"x": {"field": "t", "type": "quantitative"}, "y": {"field": "h", "type": "quantitative"}, "y2": {"field": "l"}}},
 {"mark": {"type": "text", "font": "DejaVu Sans Mono", "fontSize": 10, "color": "#7373ff", "align": "right", "baseline": "top", "dy": 1}, "encoding": {"text": {"value": "2.500"}, "x": {"datum": -3.23, "type": "quantitative"}, "y": {"datum": 2.5, "type": "quantitative"}}},
 {"mark": {"type": "text", "font": "DejaVu Sans Mono", "fontSize": 10, "color": "#7373ff", "align": "right", "baseline": "bottom", "dy": -1}, "encoding": {"text": {"value": "−2.500"}, "x": {"datum": -3.23, "type": "quantitative"}, "y": {"datum": -2.5, "type": "quantitative"}}},
 {"mark": {"type": "text", "font": "DejaVu Sans Mono", "fontSize": 10, "color": "#7373ff", "align": "right", "baseline": "alphabetic", "dy": -2}, "encoding": {"text": {"field": "o", "type": "nominal"}, "x": {"datum": -3.23, "type": "quantitative"}, "y": {"datum": 0, "type": "quantitative"}}},
 {"mark": {"type": "text", "font": "DejaVu Sans Mono", "fontSize": 10, "color": "#7373ff", "align": "right", "baseline": "alphabetic", "dy": 11}, "encoding": {"text": {"value": "Volt"}, "x": {"datum": -3.23, "type": "quantitative"}, "y": {"datum": 0, "type": "quantitative"}}},
 {"mark": {"type": "rect", "color": "#4b4bff"}, "encoding": {"x": {"datum": -7.24, "type": "quantitative"}, "x2": {"datum": -5.62}, "y": {"datum": -0.06, "type": "quantitative"}, "y2": {"datum": -0.77}}},
 {"mark": {"type": "text", "font": "DejaVu Sans Mono", "fontSize": 10, "color": "#ffffff", "align": "left", "baseline": "alphabetic", "dy": 11}, "encoding": {"text": {"field": "n", "type": "nominal"}, "x": {"datum": -7.0, "type": "quantitative"}, "y": {"datum": 0, "type": "quantitative"}}}
]},
{"data": {"values": [{}]}, "layer": [
 {"data": {"name": "grp"}, "mark": {"type": "rule", "color": "#111111", "strokeWidth": 3, "yOffset": -2}, "encoding": {"x": {"datum": -18.48, "type": "quantitative"}, "x2": {"datum": 58.877}, "y": {"field": "g", "type": "quantitative", "scale": {"domain": [-0.1787, 10.1213], "range": [0, 807], "nice": false, "zero": false}}}},
 {"mark": {"type": "rule", "color": "#8c8c8c", "strokeWidth": 2}, "encoding": {"x": {"datum": 53.56, "type": "quantitative"}, "y": {"datum": 0, "type": "quantitative"}, "y2": {"datum": 9.02}}},
 {"mark": {"type": "rule", "color": "#ff0000", "strokeWidth": 4.5}, "encoding": {"x": {"datum": 39.26, "type": "quantitative"}, "y": {"datum": -0.051, "type": "quantitative"}, "y2": {"datum": 9.904}}},
 {"mark": {"type": "rect", "fill": "#ffffff", "stroke": "#ff0000", "strokeWidth": 3}, "encoding": {"x": {"datum": 14.283, "type": "quantitative"}, "x2": {"datum": 35.48}, "y": {"datum": 1.532, "type": "quantitative"}, "y2": {"datum": 2.285}}},
 {"mark": {"type": "text", "font": "Liberation Sans", "fontSize": 26, "color": "#ff0000", "align": "center", "baseline": "alphabetic"}, "encoding": {"text": {"value": "omgevingsverstoringen"}, "x": {"datum": 24.785, "type": "quantitative"}, "y": {"datum": 2.068, "type": "quantitative"}}},
 {"mark": {"type": "rule", "color": "#ff0000", "strokeWidth": 4}, "encoding": {"x": {"datum": 37.226, "type": "quantitative"}, "y": {"datum": 1.8, "type": "quantitative"}, "x2": {"datum": 42.94}, "y2": {"datum": 2.621}}},
 {"mark": {"type": "point", "shape": "triangle-right", "filled": true, "color": "#ff0000", "opacity": 1, "size": 400, "angle": 36}, "encoding": {"x": {"datum": 43.43, "type": "quantitative"}, "y": {"datum": 2.692, "type": "quantitative"}}},
 {"mark": {"type": "rule", "color": "#ff0000", "strokeWidth": 5}, "encoding": {"x": {"datum": 29.6, "type": "quantitative"}, "y": {"datum": 9.164, "type": "quantitative"}, "y2": {"datum": 7.12}}},
 {"mark": {"type": "point", "shape": "triangle-up", "filled": true, "color": "#ff0000", "opacity": 1, "size": 420}, "encoding": {"x": {"datum": 29.6, "type": "quantitative"}, "y": {"datum": 7.016, "type": "quantitative"}}},
 {"mark": {"type": "text", "font": "Liberation Sans", "fontSize": 26, "color": "#000000", "align": "left", "baseline": "middle"}, "encoding": {"text": {"value": "Fundering"}, "x": {"datum": -18.55, "type": "quantitative"}, "y": {"datum": 1.5, "type": "quantitative"}}},
 {"mark": {"type": "text", "font": "Liberation Sans", "fontSize": 26, "color": "#000000", "align": "left", "baseline": "middle"}, "encoding": {"text": {"value": "Begane grond"}, "x": {"datum": -18.354, "type": "quantitative"}, "y": {"datum": 4.5, "type": "quantitative"}}},
 {"mark": {"type": "text", "font": "Liberation Sans", "fontSize": 26, "color": "#000000", "align": "left", "baseline": "middle"}, "encoding": {"text": {"value": "1e verdieping"}, "x": {"datum": -18.55, "type": "quantitative"}, "y": {"datum": 7.57, "type": "quantitative"}}},
 {"mark": {"type": "text", "font": "Liberation Sans", "fontSize": 26, "color": "#ff0000", "align": "center", "baseline": "alphabetic"}, "encoding": {"text": {"value": "ingekorte deel signaal\u00a0 met treinpassage"}, "x": {"datum": 20.843, "type": "quantitative"}, "y": {"datum": 9.674, "type": "quantitative"}}},
 {"mark": {"type": "text", "font": "Liberation Sans", "fontSize": 26, "color": "#ff0000", "align": "left", "baseline": "alphabetic"}, "encoding": {"text": {"value": "verwijderde"}, "x": {"datum": 41.944, "type": "quantitative"}, "y": {"datum": 9.662, "type": "quantitative"}}},
 {"mark": {"type": "text", "font": "Liberation Sans", "fontSize": 26, "color": "#ff0000", "align": "left", "baseline": "alphabetic"}, "encoding": {"text": {"value": "deel signaal"}, "x": {"datum": 41.944, "type": "quantitative"}, "y": {"datum": 10.045, "type": "quantitative"}}}
]}
]
}
